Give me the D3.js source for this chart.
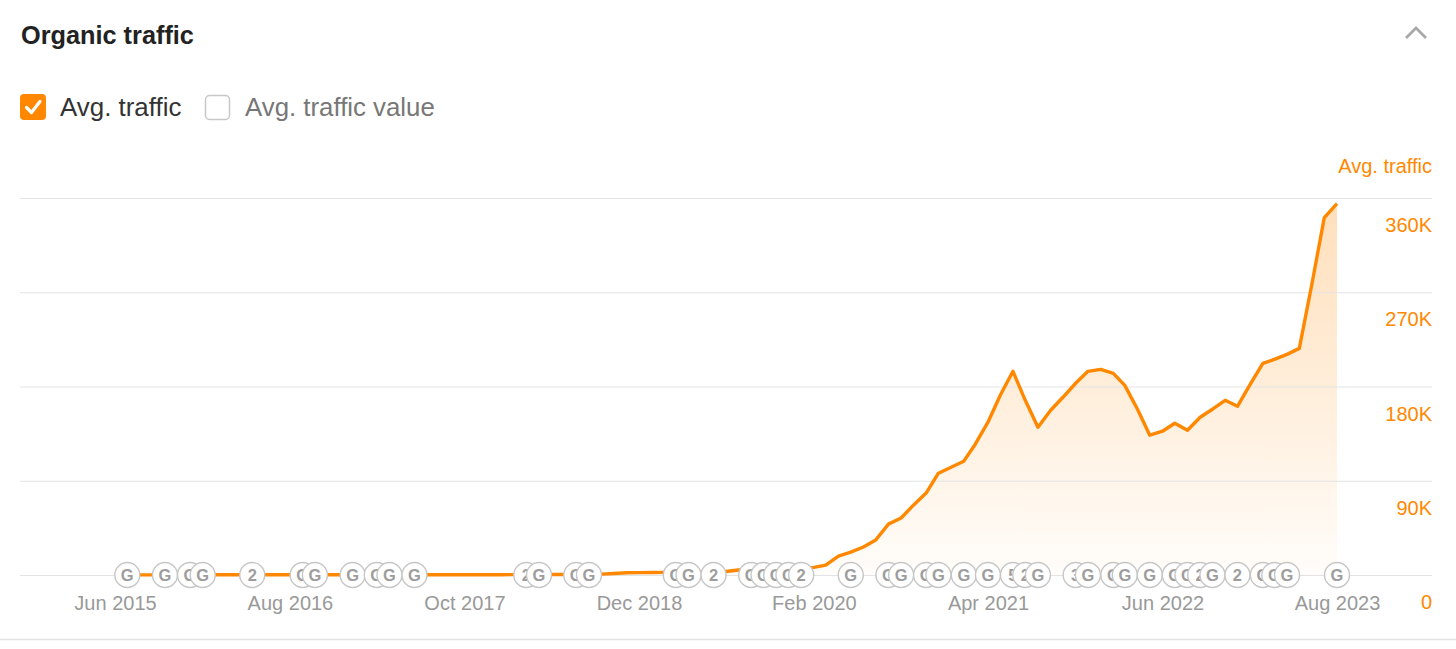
<!DOCTYPE html>
<html>
<head>
<meta charset="utf-8">
<script src="https://cdn.jsdelivr.net/npm/d3@7"></script>
<style>
  html, body { margin: 0; padding: 0; background: #fff; }
  svg { display: block; font-family: "Liberation Sans", Arial, Helvetica, sans-serif; }
</style>
</head>
<body>
<svg id="chart" width="1456" height="649"></svg>
<script>
// ---------- DATA ----------
const months = [
  "2015-07","2015-08","2015-09","2015-10","2015-11","2015-12",
  "2016-01","2016-02","2016-03","2016-04","2016-05","2016-06","2016-07","2016-08","2016-09","2016-10","2016-11","2016-12",
  "2017-01","2017-02","2017-03","2017-04","2017-05","2017-06","2017-07","2017-08","2017-09","2017-10","2017-11","2017-12",
  "2018-01","2018-02","2018-03","2018-04","2018-05","2018-06","2018-07","2018-08","2018-09","2018-10","2018-11","2018-12",
  "2019-01","2019-02","2019-03","2019-04","2019-05","2019-06","2019-07","2019-08","2019-09","2019-10","2019-11","2019-12",
  "2020-01","2020-02","2020-03","2020-04","2020-05","2020-06","2020-07","2020-08","2020-09","2020-10","2020-11","2020-12",
  "2021-01","2021-02","2021-03","2021-04","2021-05","2021-06","2021-07","2021-08","2021-09","2021-10","2021-11","2021-12",
  "2022-01","2022-02","2022-03","2022-04","2022-05","2022-06","2022-07","2022-08","2022-09","2022-10","2022-11","2022-12",
  "2023-01","2023-02","2023-03","2023-04","2023-05","2023-06","2023-07","2023-08"
];
// Avg. traffic, thousands
const avgTraffic = [
  0.1,0.1,0.1,0.1,0.2,0.2,
  0.2,0.2,0.2,0.2,0.2,0.2,0.2,0.2,0.2,0.2,0.3,0.3,
  0.3,0.3,0.3,0.3,0.3,0.3,0.3,0.3,0.3,0.3,0.3,0.3,
  0.3,0.4,0.4,0.4,0.5,0.5,0.6,0.7,0.8,1.5,2.2,2.3,
  2.4,2.5,2.5,2.6,2.7,2.8,3.3,4.8,5.4,5.9,6.2,6.5,
  6.8,7.3,9.5,18.1,21.9,26.7,33.4,48.6,54.4,66.7,78.2,97.2,
  102.9,108.7,124.9,145.9,171.6,194.5,166.8,141.1,157.3,169.7,183.1,194.5,
  196.4,192.6,181.1,158.3,133.5,137.3,144.9,138.2,150.6,158.3,166.8,161.1,
  182.1,202.1,205.9,210.7,216.4,278.4,341.3,354.7
];
const xTickMonths = ["2015-06","2016-08","2017-10","2018-12","2020-02","2021-04","2022-06","2023-08"];
const yTickValues = [0, 90, 180, 270, 360];
const markerMonths = [
  "2015-07","2015-10","2015-12","2016-01","2016-05","2016-09","2016-10","2017-01","2017-03","2017-04","2017-06",
  "2018-03","2018-04","2018-07","2018-08","2019-03","2019-04","2019-06","2019-09","2019-10","2019-11","2019-12","2020-01",
  "2020-05","2020-08","2020-09","2020-11","2020-12","2021-02","2021-04","2021-06","2021-07","2021-08","2021-11","2021-12",
  "2022-02","2022-03","2022-05","2022-07","2022-08","2022-09","2022-10","2022-12","2023-02","2023-03","2023-04","2023-08"
];
const markerLabels = [
  "G","G","G","G","2","G","G","G","G","G","G",
  "2","G","G","G","G","G","2","G","G","G","G","2",
  "G","G","G","G","G","G","G","5","2","G","3","G",
  "G","G","G","G","G","2","G","2","G","G","G","G"
];

// ---------- CHART ----------
const svg = d3.select("#chart");
const parse = d3.timeParse("%Y-%m");
const fmt = d3.timeFormat("%b %Y");
const ORANGE = "#ff8800";

const x = d3.scaleTime().domain([parse("2015-06"), parse("2023-08")]).range([115, 1337]);
const y = d3.scaleLinear().domain([0, 360]).range([575, 198]);

const data = months.map((m, i) => ({ date: parse(m), v: avgTraffic[i] }));

// header
svg.append("text").attr("x", 21).attr("y", 44)
  .attr("font-size", 25.3).attr("font-weight", "bold").attr("fill", "#222")
  .text("Organic traffic");
svg.append("path").attr("d", "M1406,38 L1416,28 L1426,38")
  .attr("fill", "none").attr("stroke", "#a8a8a8").attr("stroke-width", 2.8);

// legend
svg.append("rect").attr("x", 20).attr("y", 94).attr("width", 26).attr("height", 26).attr("rx", 4)
  .attr("fill", ORANGE);
svg.append("path").attr("d", "M26.5,107.5 L31.5,112.5 L40,101.5")
  .attr("fill", "none").attr("stroke", "#fff").attr("stroke-width", 3.2)
  .attr("stroke-linecap", "round").attr("stroke-linejoin", "round");
svg.append("text").attr("x", 60).attr("y", 116).attr("font-size", 25.9).attr("fill", "#333").text("Avg. traffic");
svg.append("rect").attr("x", 205.5).attr("y", 95.5).attr("width", 24).attr("height", 24).attr("rx", 4)
  .attr("fill", "#fff").attr("stroke", "#c8c8c8").attr("stroke-width", 1.5);
svg.append("text").attr("x", 245).attr("y", 116).attr("font-size", 25.8).attr("fill", "#777").text("Avg. traffic value");

// gradient
const defs = svg.append("defs");
const grad = defs.append("linearGradient").attr("id", "areaGrad")
  .attr("gradientUnits", "userSpaceOnUse").attr("x1", 0).attr("x2", 0).attr("y1", y(360)).attr("y2", y(0));
grad.append("stop").attr("offset", "0%").attr("stop-color", ORANGE).attr("stop-opacity", 0.27);
grad.append("stop").attr("offset", "100%").attr("stop-color", ORANGE).attr("stop-opacity", 0.02);

// area
svg.append("path").datum(data)
  .attr("fill", "url(#areaGrad)")
  .attr("d", d3.area().x(d => x(d.date)).y0(y(0)).y1(d => y(d.v)));

// grid + y axis
const yAxis = d3.axisRight(y).tickValues(yTickValues)
  .tickSize(-(1432 - 20))
  .tickFormat(d => d === 0 ? "0" : d + "K");
const gy = svg.append("g").attr("transform", "translate(1432,0)").call(yAxis);
gy.select(".domain").remove();
gy.selectAll(".tick line").attr("stroke", "#e3e3e3").attr("stroke-width", 1);
gy.selectAll(".tick text")
  .attr("x", 0).attr("dy", 33.5).attr("text-anchor", "end")
  .attr("fill", ORANGE).attr("font-size", 20).attr("font-family", "inherit");

svg.append("text").attr("x", 1432).attr("y", 173).attr("text-anchor", "end")
  .attr("font-size", 20).attr("fill", ORANGE).text("Avg. traffic");

// x axis
const xAxis = d3.axisBottom(x).tickValues(xTickMonths.map(parse)).tickSize(0).tickFormat(fmt);
const gx = svg.append("g").attr("transform", "translate(0,575)").call(xAxis);
gx.select(".domain").remove();
gx.selectAll(".tick text").attr("y", 0).attr("dy", 35)
  .attr("fill", "#999").attr("font-size", 20).attr("font-family", "inherit");

// line
svg.append("path").datum(data)
  .attr("fill", "none").attr("stroke", ORANGE).attr("stroke-width", 3.4)
  .attr("stroke-linejoin", "round")
  .attr("d", d3.line().x(d => x(d.date)).y(d => y(d.v)));

// markers
const mk = svg.append("g").selectAll("g").data(markerMonths.map((m, i) => ({ date: parse(m), label: markerLabels[i] })))
  .join("g").attr("transform", d => `translate(${x(d.date)},${y(0)})`);
mk.append("circle").attr("r", 12.5).attr("fill", "#fff").attr("stroke", "#c6c6c6").attr("stroke-width", 1.4);
mk.append("text").attr("text-anchor", "middle").attr("dy", "0.36em")
  .attr("font-size", 16.5).attr("font-weight", "bold").attr("fill", "#9d9d9d").text(d => d.label);

// bottom border
svg.append("line").attr("x1", 0).attr("x2", 1456).attr("y1", 639.5).attr("y2", 639.5)
  .attr("stroke", "#e3e3e3").attr("stroke-width", 1.5);
</script>
</body>
</html>
